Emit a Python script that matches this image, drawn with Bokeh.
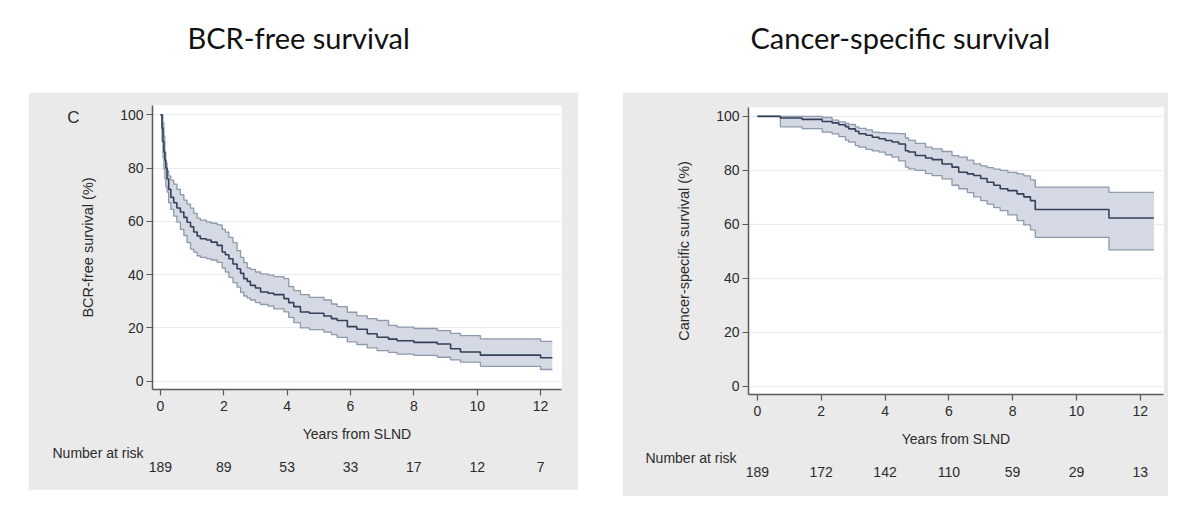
from bokeh.plotting import figure
from bokeh.layouts import row, column, Spacer
from bokeh.models import Range1d, LinearAxis, FixedTicker, Title
from bokeh.embed import file_html
from bokeh.resources import INLINE

# ---------------- data ----------------
titles = ["BCR-free survival", "Cancer-specific survival"]
y_labels = ["BCR-free survival (%)", "Cancer-specific survival (%)"]
x_label = "Years from SLND"
risk_label = "Number at risk"
panel_letter = "C"

x_ticks = [0, 2, 4, 6, 8, 10, 12]
y_ticks = [0, 20, 40, 60, 80, 100]

bcr_risk = [189, 89, 53, 33, 17, 12, 7]
css_risk = [189, 172, 142, 110, 59, 29, 13]

bcr_t = [0, 0.05, 0.08, 0.11, 0.14, 0.17, 0.21, 0.26, 0.33, 0.42, 0.52, 0.63, 0.74, 0.84,
         0.95, 1.05, 1.16, 1.26, 1.45, 1.60, 1.79, 1.95, 2.05, 2.16, 2.29, 2.42, 2.53, 2.63,
         2.74, 2.84, 3.0, 3.16, 3.4, 3.58, 3.9, 4.05, 4.21, 4.42, 4.7, 5.16, 5.4, 5.58, 5.9,
         6.2, 6.53, 6.84, 7.2, 7.47, 8.0, 8.74, 9.16, 9.47, 10.1, 12.0, 12.37]
bcr_s = [100, 95, 90, 86, 83, 80, 76, 72, 69, 67, 65, 63.5, 61.5, 59.7,
         58, 56, 54.5, 53.5, 53, 52.2, 51, 48.5, 47.5, 46, 44, 42.2, 40.5, 38.5,
         37.5, 36, 35, 33.5, 33, 32.5, 31, 29.5, 28, 26, 25.5, 24.5, 23.5, 22.8, 20.5,
         19.5, 17.8, 16.5, 15.8, 15.2, 14.6, 14, 12.2, 11, 9.8, 8.8, 8.8]
bcr_hi = [100, 100, 97, 92, 86, 82, 79, 77, 75.5, 74, 72, 70, 68, 66.5,
          65, 63, 61.2, 60.5, 59.8, 59.3, 58.7, 57, 56, 54, 52, 49, 46.5, 44.5,
          42.5, 42, 41, 40.3, 39.8, 39.3, 38.5, 35.5, 34, 32.5, 31.5, 30.5, 29, 28, 25.9,
          24.5, 23.5, 22.8, 21, 20.3, 19.8, 19, 18, 17.1, 15.9, 15, 15]
bcr_lo = [100, 90, 84, 79.5, 76, 73, 71, 67, 64.5, 62, 59.7, 57, 54.7, 52,
          49.6, 48.5, 47.1, 46.5, 46, 45.5, 44.6, 42.5, 41, 39, 37, 35.3, 33.4, 32,
          31.2, 30.5, 29.5, 28.8, 28.2, 27.2, 26, 24, 22, 20, 19.4, 18.4, 17.5, 16.5, 14.8,
          13.8, 12.5, 11.5, 10.8, 10.2, 9.7, 9, 8, 7.2, 5.6, 4.4, 4.4]

css_t = [0, 0.72, 1.4, 2.03, 2.34, 2.55, 2.76, 2.86, 3.07, 3.18, 3.4, 3.6, 3.81, 4.01,
         4.22, 4.43, 4.64, 4.74, 4.95, 5.27, 5.48, 5.79, 6.1, 6.31, 6.58, 6.78, 7.0, 7.2,
         7.41, 7.61, 7.85, 8.14, 8.35, 8.56, 8.71, 11.02, 12.43]
css_s = [100, 99.4, 98.9, 98.1, 97.6, 96.9, 96.2, 95.4, 94.5, 93.6, 93, 92.3, 91.7, 91.1,
         90.5, 89.8, 87.3, 86.8, 85.5, 84.6, 84, 82.4, 81.2, 79.3, 78.7, 78.1, 77, 75.6,
         74.5, 73.2, 72.5, 71.3, 70.2, 68.8, 65.5, 62.4, 62.4]
css_hi = [100, 100, 100, 99.6, 98.6, 98, 97.4, 97, 96.1, 95.6, 95, 94.2, 94, 93.8,
          93.7, 93.6, 92, 91.1, 90, 88.6, 88, 87, 85.5, 84.9, 83.8, 82.4, 81.7, 81,
          80.5, 80, 79.3, 78.7, 78, 76.5, 73.8, 71.9, 71.9]
css_lo = [100, 96.1, 95.5, 94.2, 93.5, 92.5, 91.2, 90.5, 89.2, 88.6, 87.8, 87.2, 86.8, 85.8,
          84.9, 83.5, 81.2, 80.6, 80, 78.8, 78.1, 76.9, 74.5, 73.2, 71.8, 70.2, 68.8, 67.5,
          66.2, 65.1, 63.5, 61.4, 59.8, 58, 55.2, 50.6, 50.6]

# ---------------- styling ----------------
PANEL_BG = "#eaeaea"
BAND_FILL = "#d4d9e3"
BAND_EDGE = "#8d99ac"
LINE_COL = "#34405a"
AXIS_COL = "#5a5a5a"
TXT_COL = "#2b2b2b"
GRID_COL = "#e4ecef"
FONT = "Liberation Sans"


def title_fig(text, w, h, offset, mbt):
    t = figure(width=w, height=h, x_range=Range1d(0, 1), y_range=Range1d(0, 1),
               x_axis_location=None, y_axis_location=None, title=text,
               output_backend="svg", toolbar_location=None,
               min_border_left=0, min_border_right=0, min_border_top=mbt,
               min_border_bottom=0)
    t.grid.visible = False
    t.outline_line_color = None
    t.title.align = "left"
    t.title.offset = offset
    t.title.text_font = "Lato"
    t.title.text_font_size = "29px"
    t.title.text_font_style = "normal"
    t.title.text_color = "#111111"
    return t


def panel(w, h, mb, xr, yr, t, s, lo, hi, risk, ylab, risk_offset, rk_standoff,
          letter=None):
    p = figure(width=w, height=h, x_range=Range1d(*xr), y_range=Range1d(*yr),
               output_backend="svg", toolbar_location=None,
               min_border_left=mb[0], min_border_right=mb[1],
               min_border_top=mb[2], min_border_bottom=mb[3])
    p.border_fill_color = PANEL_BG
    p.background_fill_color = "white"
    p.outline_line_color = None
    p.xgrid.visible = False
    p.ygrid.grid_line_color = GRID_COL
    p.ygrid.grid_line_width = 1
    p.ygrid.ticker = FixedTicker(ticks=y_ticks)

    p.varea_step(x=t, y1=lo, y2=hi, step_mode="after", fill_color=BAND_FILL, fill_alpha=1)
    p.step(x=t, y=hi, mode="after", line_color=BAND_EDGE, line_width=1.3)
    p.step(x=t, y=lo, mode="after", line_color=BAND_EDGE, line_width=1.3)
    p.step(x=t, y=s, mode="after", line_color=LINE_COL, line_width=1.6)

    for ax in (p.xaxis[0], p.yaxis[0]):
        ax.axis_line_color = AXIS_COL
        ax.axis_line_width = 1.5
        ax.major_tick_line_color = AXIS_COL
        ax.major_tick_line_width = 1.2
        ax.major_tick_out = 6
        ax.major_tick_in = 0
        ax.minor_tick_line_color = None
        ax.major_label_text_font = FONT
        ax.major_label_text_font_size = "14px"
        ax.major_label_text_color = TXT_COL
        ax.axis_label_text_font = FONT
        ax.axis_label_text_font_style = "normal"
        ax.axis_label_text_color = TXT_COL
    p.xaxis[0].axis_label_text_font_size = "14px"
    p.yaxis[0].axis_label_text_font_size = "14.5px"
    p.xaxis[0].ticker = FixedTicker(ticks=x_ticks)
    p.yaxis[0].ticker = FixedTicker(ticks=y_ticks)
    p.xaxis[0].axis_label = x_label
    p.xaxis[0].major_label_standoff = 5
    p.xaxis[0].axis_label_standoff = 12
    p.yaxis[0].axis_label = ylab
    p.yaxis[0].major_label_standoff = 3
    p.yaxis[0].axis_label_standoff = 21

    # "Number at risk" heading, left of the frame, between the axis title and the counts
    p.add_layout(Title(text=risk_label, align="left", offset=risk_offset, standoff=0,
                       vertical_align="top", text_font=FONT, text_font_size="14px",
                       text_font_style="normal", text_color=TXT_COL), "below")

    rk = LinearAxis(ticker=FixedTicker(ticks=x_ticks),
                    major_label_overrides={xt: str(n) for xt, n in zip(x_ticks, risk)})
    rk.axis_line_color = None
    rk.major_tick_line_color = None
    rk.minor_tick_line_color = None
    rk.major_label_standoff = rk_standoff
    rk.major_label_text_font = FONT
    rk.major_label_text_font_size = "14px"
    rk.major_label_text_color = TXT_COL
    p.add_layout(rk, "below")

    if letter:
        la = LinearAxis(ticker=FixedTicker(ticks=[99]), major_label_overrides={99: letter})
        la.axis_line_color = None
        la.major_tick_line_color = None
        la.minor_tick_line_color = None
        la.major_label_standoff = -8
        la.major_label_text_font = FONT
        la.major_label_text_font_size = "17px"
        la.major_label_text_color = TXT_COL
        p.add_layout(la, "left")
    return p


t1 = title_fig(titles[0], 550, 92, 35, 59)
p1 = panel(550, 398, (124, 17, 13, 101), (-0.25, 12.66), (-3.1, 103.5),
           bcr_t, bcr_s, bcr_lo, bcr_hi, bcr_risk, y_labels[0], -100, -7, panel_letter)
t2 = title_fig(titles[1], 546, 92, 2, 59)
p2 = panel(546, 404, (126, 5, 15, 102), (-0.28, 12.73), (-3.0, 103.3),
           css_t, css_s, css_lo, css_hi, css_risk, y_labels[1], -103, -7)

layout = row(Spacer(width=28, height=10), column(t1, p1), Spacer(width=44, height=10),
             column(t2, p2))

open("out.html", "w").write(file_html(layout, INLINE))
